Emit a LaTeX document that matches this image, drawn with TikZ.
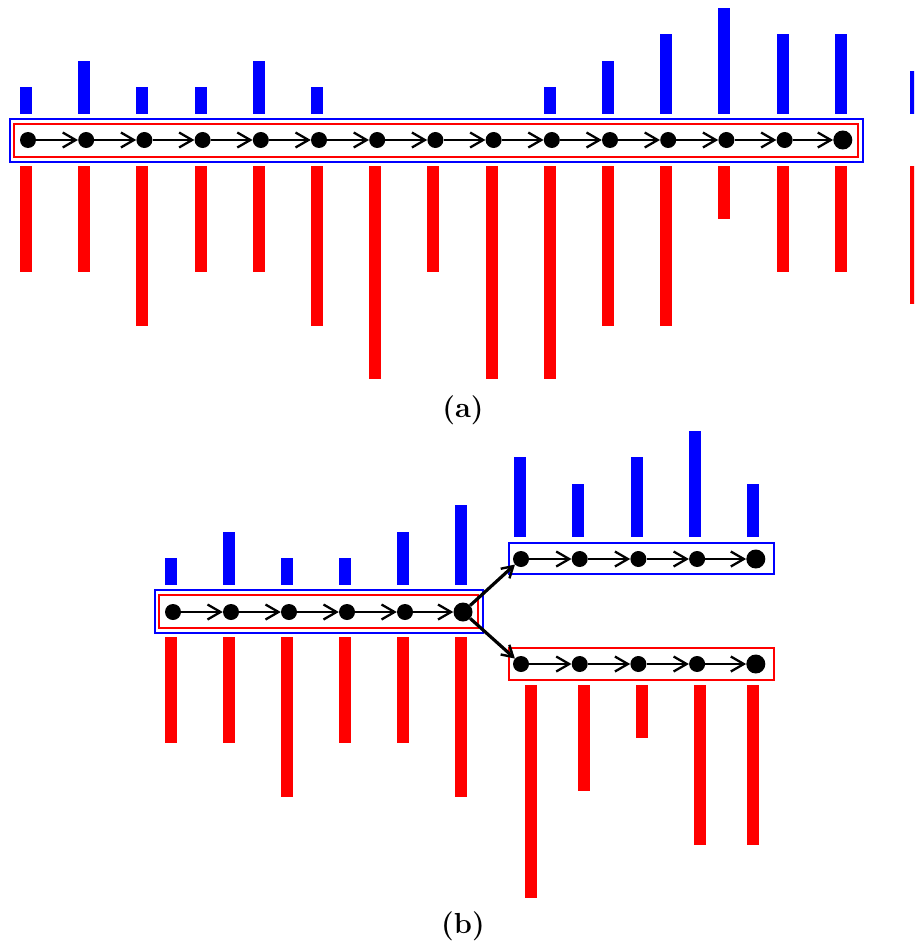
\documentclass[tikz,border=0pt]{standalone}
\usepackage{fontspec}
\usetikzlibrary{arrows.meta}
\begin{document}
\begin{tikzpicture}[x=1pt,y=-1pt,
  dot/.style={circle,fill=black,inner sep=0pt,minimum size=16pt},
  bigdot/.style={circle,fill=black,inner sep=0pt,minimum size=19pt},
  link/.style={line width=2.8pt,-{Straight Barb[length=13pt,width=15pt,line width=2.3pt]}},
  branch/.style={line width=3.2pt,-{Straight Barb[length=11pt,width=13pt,line width=2.4pt]}},
  bluebar/.style={fill={rgb,255:red,0;green,0;blue,255}},
  redbar/.style={fill={rgb,255:red,255;green,0;blue,0}},
  bluebox/.style={draw={rgb,255:red,0;green,0;blue,255},line width=2pt},
  redbox/.style={draw={rgb,255:red,255;green,0;blue,0},line width=2pt},
  caption/.style={font=\fontsize{29}{34}\selectfont\bfseries}
]
\useasboundingbox (0,0) rectangle (914,947);
\clip (0,0) rectangle (914,947);
\def\u{26.6}
% ---------- (a) ----------
\foreach \h [count=\i from 0] in {1,2,1,1,2,1,0,0,0,1,2,3,4,3,3}{
  \ifnum\h>0
    \fill[bluebar] ({26+58.2*\i-6},114) rectangle ({26+58.2*\i+6},{114-\h*\u});
  \fi
}
\foreach \h [count=\i from 0] in {4,4,6,4,4,6,8,4,8,8,6,6,2,4,4}{
  \fill[redbar] ({26+58.2*\i-6},166) rectangle ({26+58.2*\i+6},{166+\h*\u});
}
\fill[bluebar] (910,114) rectangle (922,71);
\fill[redbar] (910,166) rectangle (922,304);
\draw[bluebox] (10,119) rectangle (863,162);
\draw[redbox] (14,124) rectangle (858,157);
\foreach \i in {0,...,13}{
  \node[dot] (a\i) at ({28+58.2*\i},140) {};
}
\node[bigdot] (a14) at ({28+58.2*14},140) {};
\foreach \i [evaluate=\i as \j using int(\i+1)] in {0,...,13}{
  \draw[link] (a\i) -- (a\j);
}
\node[caption] (capa) at (463,410) {(a)};
% ---------- (b) left ----------
\foreach \h [count=\i from 0] in {1,2,1,1,2,3}{
  \fill[bluebar] ({171+58*\i-6},585) rectangle ({171+58*\i+6},{585-\h*\u});
}
\foreach \h [count=\i from 0] in {4,4,6,4,4,6}{
  \fill[redbar] ({171+58*\i-6},637) rectangle ({171+58*\i+6},{637+\h*\u});
}
\draw[bluebox] (155,590) rectangle (483,633);
\draw[redbox] (159,595) rectangle (478,628);
\foreach \i in {0,...,4}{
  \node[dot] (b\i) at ({173+58*\i},612) {};
}
\node[bigdot] (b5) at ({173+58*5},612) {};
\foreach \i [evaluate=\i as \j using int(\i+1)] in {0,...,4}{
  \draw[link] (b\i) -- (b\j);
}
% ---------- (b) upper right ----------
\foreach \h/\x in {3/520,2/578,3/637,4/695,2/753}{
  \fill[bluebar] ({\x-6},537) rectangle ({\x+6},{537-\h*\u});
}
\draw[bluebox] (509,543) rectangle (774,574);
\foreach \i in {0,...,3}{
  \node[dot] (c\i) at ({521+58.7*\i},559) {};
}
\node[bigdot] (c4) at ({521+58.7*4},559) {};
\foreach \i [evaluate=\i as \j using int(\i+1)] in {0,...,3}{
  \draw[link] (c\i) -- (c\j);
}
% ---------- (b) lower right ----------
\foreach \h/\x in {8/531,4/584,2/642,6/700,6/753}{
  \fill[redbar] ({\x-6},685) rectangle ({\x+6},{685+\h*\u});
}
\draw[redbox] (509,648) rectangle (774,680);
\foreach \i in {0,...,3}{
  \node[dot] (d\i) at ({521+58.7*\i},664) {};
}
\node[bigdot] (d4) at ({521+58.7*4},664) {};
\foreach \i [evaluate=\i as \j using int(\i+1)] in {0,...,3}{
  \draw[link] (d\i) -- (d\j);
}
% ---------- branches ----------
\draw[branch] (b5) -- (c0);
\draw[branch] (b5) -- (d0);
\node[caption] (capb) at (463,926) {(b)};
\end{tikzpicture}
\end{document}
